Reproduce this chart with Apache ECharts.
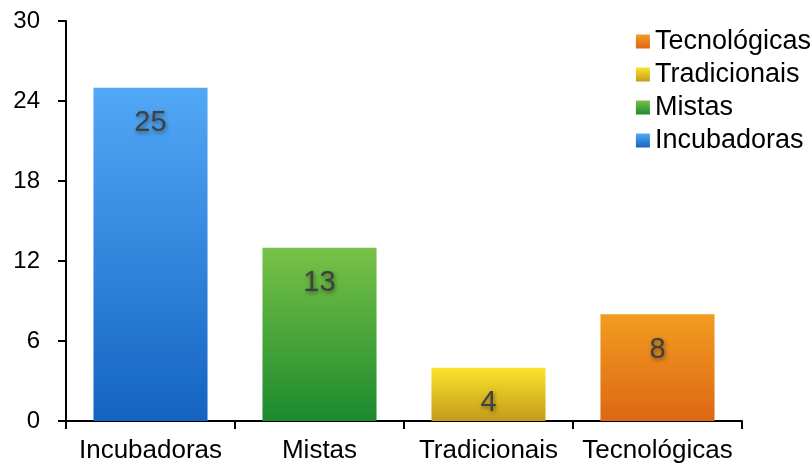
<!DOCTYPE html>
<html>
<head>
<meta charset="utf-8">
<script src="https://cdn.jsdelivr.net/npm/echarts@6/dist/echarts.min.js"></script>
<style>
  html, body { margin: 0; padding: 0; background: #fff; }
  #chart { width: 811px; height: 466px; }
</style>
</head>
<body>
<div id="chart"></div>
<script>
// Categories along the x axis
const categories = ['Incubadoras', 'Mistas', 'Tradicionais', 'Tecnológicas'];
// One value per category
const values = [25, 13, 4, 8];
// Y axis ticks
const yMin = 0, yMax = 30, yStep = 6;
// Gradient stops per category (top, bottom)
const gradients = [
  ['#52A8F7', '#1463C2'],
  ['#78C248', '#1C8A2E'],
  ['#FBE32C', '#C49B1A'],
  ['#F39C20', '#DD6714']
];

const font = 'Liberation Sans, Arial, sans-serif';

function grad(c) {
  return new echarts.graphic.LinearGradient(0, 0, 0, 1, [
    { offset: 0, color: c[0] },
    { offset: 1, color: c[1] }
  ]);
}

const series = categories.map((name, i) => ({
  name: name,
  type: 'bar',
  stack: 'total',
  barWidth: '67.5%',
  data: categories.map((_, j) => (j === i ? values[i] : null)),
  itemStyle: { color: grad(gradients[i]) },
  label: {
    show: true,
    position: 'insideTop',
    distance: 21,
    fontFamily: font,
    fontSize: 29,
    color: '#404040',
    textShadowColor: 'rgba(0,0,0,0.45)',
    textShadowBlur: 4,
    textShadowOffsetX: 1,
    textShadowOffsetY: 2
  }
}));

const chart = echarts.init(document.getElementById('chart'));
chart.setOption({
  animation: false,
  grid: { left: 66, right: 69, top: 21, bottom: 45, containLabel: false },
  legend: {
    data: categories.slice().reverse(),
    orient: 'vertical',
    right: 0,
    top: 28,
    padding: 0,
    itemWidth: 14,
    itemHeight: 14,
    itemGap: 6,
    icon: 'rect',
    textStyle: { fontFamily: font, fontSize: 27, lineHeight: 27, color: '#000', padding: [0, 0, 0, 0] }
  },
  xAxis: {
    type: 'category',
    data: categories,
    axisLine: { lineStyle: { color: '#000', width: 2 } },
    axisTick: { show: true, length: 8, lineStyle: { color: '#000', width: 2 } },
    axisLabel: { interval: 0, hideOverlap: false, fontFamily: font, fontSize: 26, color: '#000', margin: 17 }
  },
  yAxis: {
    type: 'value',
    min: yMin,
    max: yMax,
    interval: yStep,
    splitLine: { show: false },
    axisLine: { show: true, lineStyle: { color: '#000', width: 2 } },
    axisTick: { show: true, length: 8, lineStyle: { color: '#000', width: 2 } },
    axisLabel: { fontFamily: font, fontSize: 24, color: '#000', margin: 26 }
  },
  series: series
});
</script>
</body>
</html>
